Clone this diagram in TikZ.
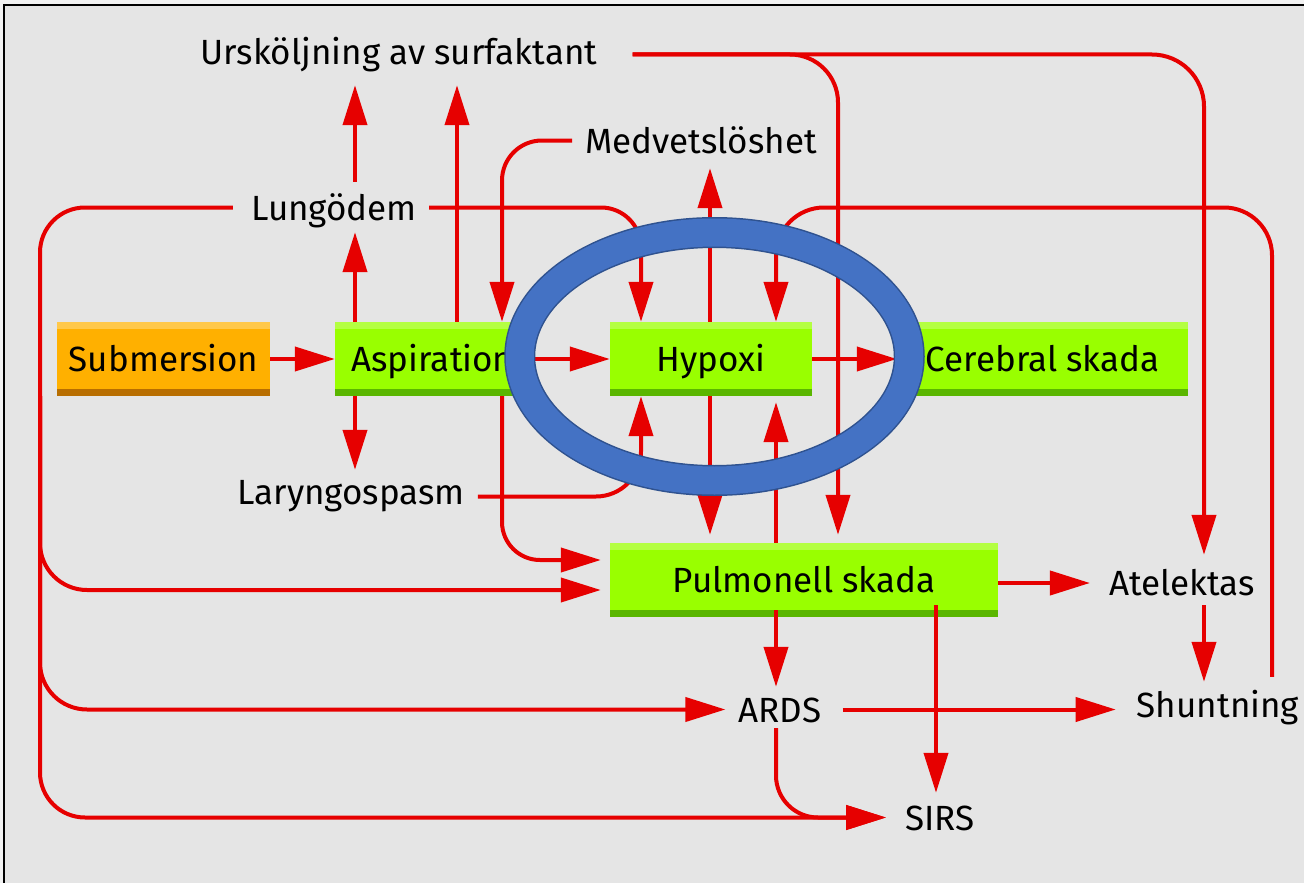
\documentclass[tikz,border=0pt]{standalone}
\usepackage{fontspec}
\setmainfont{Fira Sans}
\usetikzlibrary{arrows.meta}
\definecolor{bgout}{RGB}{242,242,242}
\definecolor{bg}{RGB}{229,229,229}
\definecolor{rline}{RGB}{230,0,0}
\definecolor{gmain}{RGB}{153,255,0}
\definecolor{ghi}{RGB}{180,255,66}
\definecolor{glo}{RGB}{90,182,0}
\definecolor{omain}{RGB}{255,176,0}
\definecolor{ohi}{RGB}{255,200,74}
\definecolor{olo}{RGB}{184,110,0}
\definecolor{ringfill}{RGB}{68,114,196}
\definecolor{ringedge}{RGB}{47,82,143}
\newcommand\dfont{\fontsize{35}{40}\selectfont}
\begin{document}
\begin{tikzpicture}[x=1pt,y=-1pt,
  lbl/.style={inner sep=0pt, text height=25pt, text depth=0pt, font=\dfont},
  boxbase/.style={inner sep=0pt, minimum height=74pt, text height=25pt, text depth=0pt, font=\dfont},
  gbox/.style={boxbase, fill=gmain, path picture={
     \fill[ghi] (path picture bounding box.north west) rectangle ([yshift=-7pt]path picture bounding box.north east);
     \fill[glo] (path picture bounding box.south west) rectangle ([yshift=7pt]path picture bounding box.south east);}},
  obox/.style={boxbase, fill=omain, path picture={
     \fill[ohi] (path picture bounding box.north west) rectangle ([yshift=-7pt]path picture bounding box.north east);
     \fill[olo] (path picture bounding box.south west) rectangle ([yshift=7pt]path picture bounding box.south east);}},
  conn/.style={draw=rline, line width=4pt},
  arr/.style={conn, -{Triangle[length=40pt,width=24pt]}},
]
\useasboundingbox (0,0) rectangle (1304,883);
\fill[bgout] (0,0) rectangle (1304,883);
\fill[bg] (4,5) rectangle (1304,883);
\draw[black, line width=2.5pt] (4,883) -- (4,5) -- (1304,5);

% lanes
\coordinate (Xt) at (40,0);
\coordinate (Xa) at (355,0);
\coordinate (Xb) at (457,0);
\coordinate (Xc) at (502,0);
\coordinate (Xd) at (641,0);
\coordinate (Xe) at (710,0);
\coordinate (Xf) at (776,0);
\coordinate (Xg) at (838,0);
\coordinate (Xj) at (936,0);
\coordinate (Xh) at (1204,0);
\coordinate (Xi) at (1272,0);

% boxes
\node[obox, minimum width=213pt] (sub) at (163.5,359) {Submersion};
\node[gbox, minimum width=195pt] (asp) at (432.5,359) {Aspiration};
\node[gbox, minimum width=202pt] (hyp) at (711,359) {Hypoxi};
\node[gbox, minimum width=291pt] (cer) at (1042.5,359) {Cerebral skada};
\node[gbox, minimum width=388pt] (pul) at (804,580) {Pulmonell skada};

% labels
\node[lbl] (urs) at (399,52.5) {Ursköljning av surfaktant};
\node[lbl] (med) at (701,140.5) {Medvetslöshet};
\node[lbl] (lung) at (334,207.5) {Lungödem};
\node[lbl] (lar) at (351,491.5) {Laryngospasm};
\node[lbl] (ate) at (1182,582.5) {Atelektas};
\node[lbl] (shu) at (1218,704.5) {Shuntning};
\node[lbl] (ards) at (780,709.5) {ARDS};
\node[lbl] (sirs) at (940,817.5) {SIRS};

% connectors
\draw[arr] (sub.east) -- (asp.west);
\draw[arr] (asp.east) -- (hyp.west);
\draw[arr] (hyp.east) -- (cer.west);
\draw[arr, shorten >=12pt] (asp.north -| Xa) -- (lung.south -| Xa);
\draw[arr, shorten <=13pt, shorten >=20pt] (lung.north -| Xa) -- (urs.south -| Xa);
\draw[arr, shorten >=20pt] (asp.north -| Xb) -- (urs.south -| Xb);
\draw[arr, shorten >=9pt] (asp.south -| Xa) -- (lar.north -| Xa);
\draw[arr, rounded corners=40pt, shorten <=13pt] (med.west) -| (asp.north -| Xc);
\draw[arr, rounded corners=40pt, shorten <=12pt] (lung.east) -| (hyp.north -| Xd);
\draw[arr, rounded corners=45pt, shorten <=18pt, shorten >=19pt] (lung.west) -| (sirs.west -| Xt) -- (sirs.west);
\draw[arr, rounded corners=47pt, shorten >=9pt] (asp.south -| Xt) |- ([yshift=-10pt]pul.west);
\draw[arr, rounded corners=47pt, shorten >=13pt] (asp.south -| Xt) |- (ards.west);
\draw[arr, rounded corners=38pt, shorten >=9pt] (asp.south -| Xc) |- ([yshift=20pt]pul.west);
\draw[arr, rounded corners=45pt, shorten <=13pt] ([yshift=-5pt]lar.east) -| (hyp.south -| Xd);
\draw[arr, shorten >=15pt] (hyp.north -| Xe) -- (med.south -| Xe);
\draw[arr, shorten >=8pt] (hyp.south -| Xe) -- (pul.north -| Xe);
\draw[arr, shorten >=6pt] (pul.north -| Xf) -- (hyp.south -| Xf);
\draw[arr, rounded corners=48pt, shorten <=15pt] (shu.north -| Xi) -- (lung.east -| Xi) -- (lung.east -| Xf) -- (hyp.north -| Xf);
\draw[arr, rounded corners=48pt, shorten <=35pt, shorten >=8pt] ([yshift=-2pt]urs.east) -| (pul.north -| Xg);
\draw[arr, rounded corners=52pt, shorten <=35pt, shorten >=15pt] ([yshift=-2pt]urs.east) -| (ate.north -| Xh);
\draw[arr, shorten >=19pt] ([yshift=-3pt]pul.east) -- ([yshift=-3pt]pul.east -| ate.west);
\draw[arr, shorten <=10pt, shorten >=10pt] (ate.south -| Xh) -- (shu.north -| Xh);
\draw[arr, shorten <=-7pt, shorten >=10pt] (pul.south -| Xf) -- (ards.north -| Xf);
\draw[arr, shorten <=-12pt, shorten >=12pt] (pul.south -| Xj) -- (sirs.north -| Xj);
\draw[arr, shorten <=21pt, shorten >=21pt] (ards.east) -- (ards.east -| shu.west);
\draw[arr, rounded corners=42pt, shorten <=6pt, shorten >=19pt] (ards.south -| Xf) |- (sirs.west);

% ring
\draw[ringedge, line width=31pt] (714.5,356.5) ellipse [x radius=194.75pt, y radius=124pt];
\draw[ringfill, line width=28pt] (714.5,356.5) ellipse [x radius=194.75pt, y radius=124pt];
\end{tikzpicture}
\end{document}
